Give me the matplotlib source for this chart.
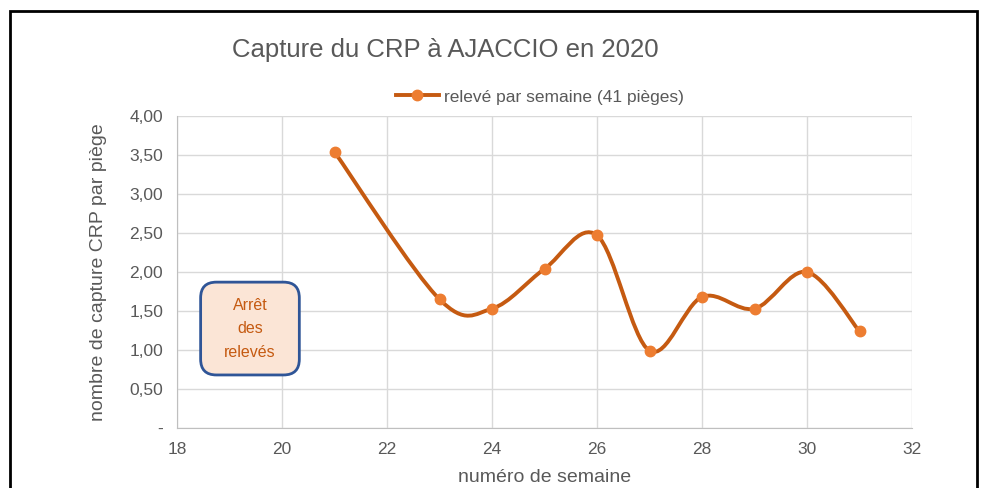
import numpy as np
import matplotlib.pyplot as plt
from matplotlib.path import Path
from matplotlib.patches import PathPatch, FancyBboxPatch, Rectangle
from matplotlib.lines import Line2D

semaines = [21, 23, 24, 25, 26, 27, 28, 29, 30, 31]
captures = [3.54, 1.65, 1.53, 2.04, 2.47, 0.99, 1.68, 1.53, 2.00, 1.24]
yticks = [0, 0.5, 1.0, 1.5, 2.0, 2.5, 3.0, 3.5, 4.0]
ylabels = ['-', '0,50', '1,00', '1,50', '2,00', '2,50', '3,00', '3,50', '4,00']
xticks = [18, 20, 22, 24, 26, 28, 30, 32]

line_col = '#C55A11'
mark_col = '#ED7D31'
txt_col = '#595959'

plt.rcParams['font.family'] = ['Liberation Sans', 'DejaVu Sans']

fig = plt.figure(figsize=(9.81, 4.88), dpi=100)
ax = fig.add_axes([177 / 981, 60 / 488, 735 / 981, 312 / 488])
ax.set_xlim(18, 32)
ax.set_ylim(0, 4)

# smoothed line like excel (bezier through points)
x = np.array(semaines, float)
y = np.array(captures, float)
verts = [(x[0], y[0])]
codes = [Path.MOVETO]
n = len(x)
for i in range(n - 1):
    p0 = np.array([x[max(i - 1, 0)], y[max(i - 1, 0)]])
    p1 = np.array([x[i], y[i]])
    p2 = np.array([x[i + 1], y[i + 1]])
    p3 = np.array([x[min(i + 2, n - 1)], y[min(i + 2, n - 1)]])
    c1 = p1 + (p2 - p0) / 6
    c2 = p2 - (p3 - p1) / 6
    verts += [tuple(c1), tuple(c2), tuple(p2)]
    codes += [Path.CURVE4] * 3
ax.add_patch(PathPatch(Path(verts, codes), fill=False, edgecolor=line_col, lw=2.8, zorder=3,
                       capstyle='round'))
ax.plot(semaines, captures, 'o', color=mark_col, ms=7.5, zorder=4)

ax.set_xticks(xticks)
ax.set_yticks(yticks)
ax.set_yticklabels(ylabels)
ax.grid(True, color='#D9D9D9', lw=1)
ax.set_axisbelow(True)
for s in ['top', 'right']:
    ax.spines[s].set_visible(False)
for s in ['left', 'bottom']:
    ax.spines[s].set_color('#BFBFBF')
ax.tick_params(length=0, labelsize=12.5, colors=txt_col, pad=10)
ax.set_xlabel('numéro de semaine', fontsize=14, color=txt_col, labelpad=9)
ax.set_ylabel('nombre de capture CRP par piège', fontsize=14, color=txt_col, labelpad=16)

# annotation box (rounded corners equal in pixels)
box = FancyBboxPatch((18.45, 0.68), 1.88, 1.19, boxstyle='round,pad=0,rounding_size=0.3',
                     mutation_aspect=52.5 / 78, facecolor='#FBE5D6', edgecolor='#2F5597', lw=2, zorder=5)
ax.add_patch(box)
ax.text(19.39, 1.27, 'Arrêt\ndes\nrelevés', ha='center', va='center', color=line_col,
        fontsize=11.5, linespacing=1.7, zorder=6)

fig.text(445 / 981, 1 - 50 / 488, 'Capture du CRP à AJACCIO en 2020', ha='center', va='center',
         fontsize=18.5, color=txt_col)
handle = Line2D([], [], color=line_col, lw=2.8, marker='o', ms=7.5, markerfacecolor=mark_col,
                markeredgecolor=mark_col)
fig.legend([handle], ['relevé par semaine (41 pièges)'], loc='center', bbox_to_anchor=(540 / 981, 1 - 97 / 488),
           frameon=False, fontsize=12.5, labelcolor=txt_col, handlelength=2.5, handletextpad=0.3)

# outer frame
fig.patches.append(Rectangle((10 / 981, -0.05), 967 / 981, 1 - 11 / 488 + 0.05, transform=fig.transFigure,
                             fill=False, edgecolor='black', lw=2))

fig.savefig('out.png', dpi=100)
